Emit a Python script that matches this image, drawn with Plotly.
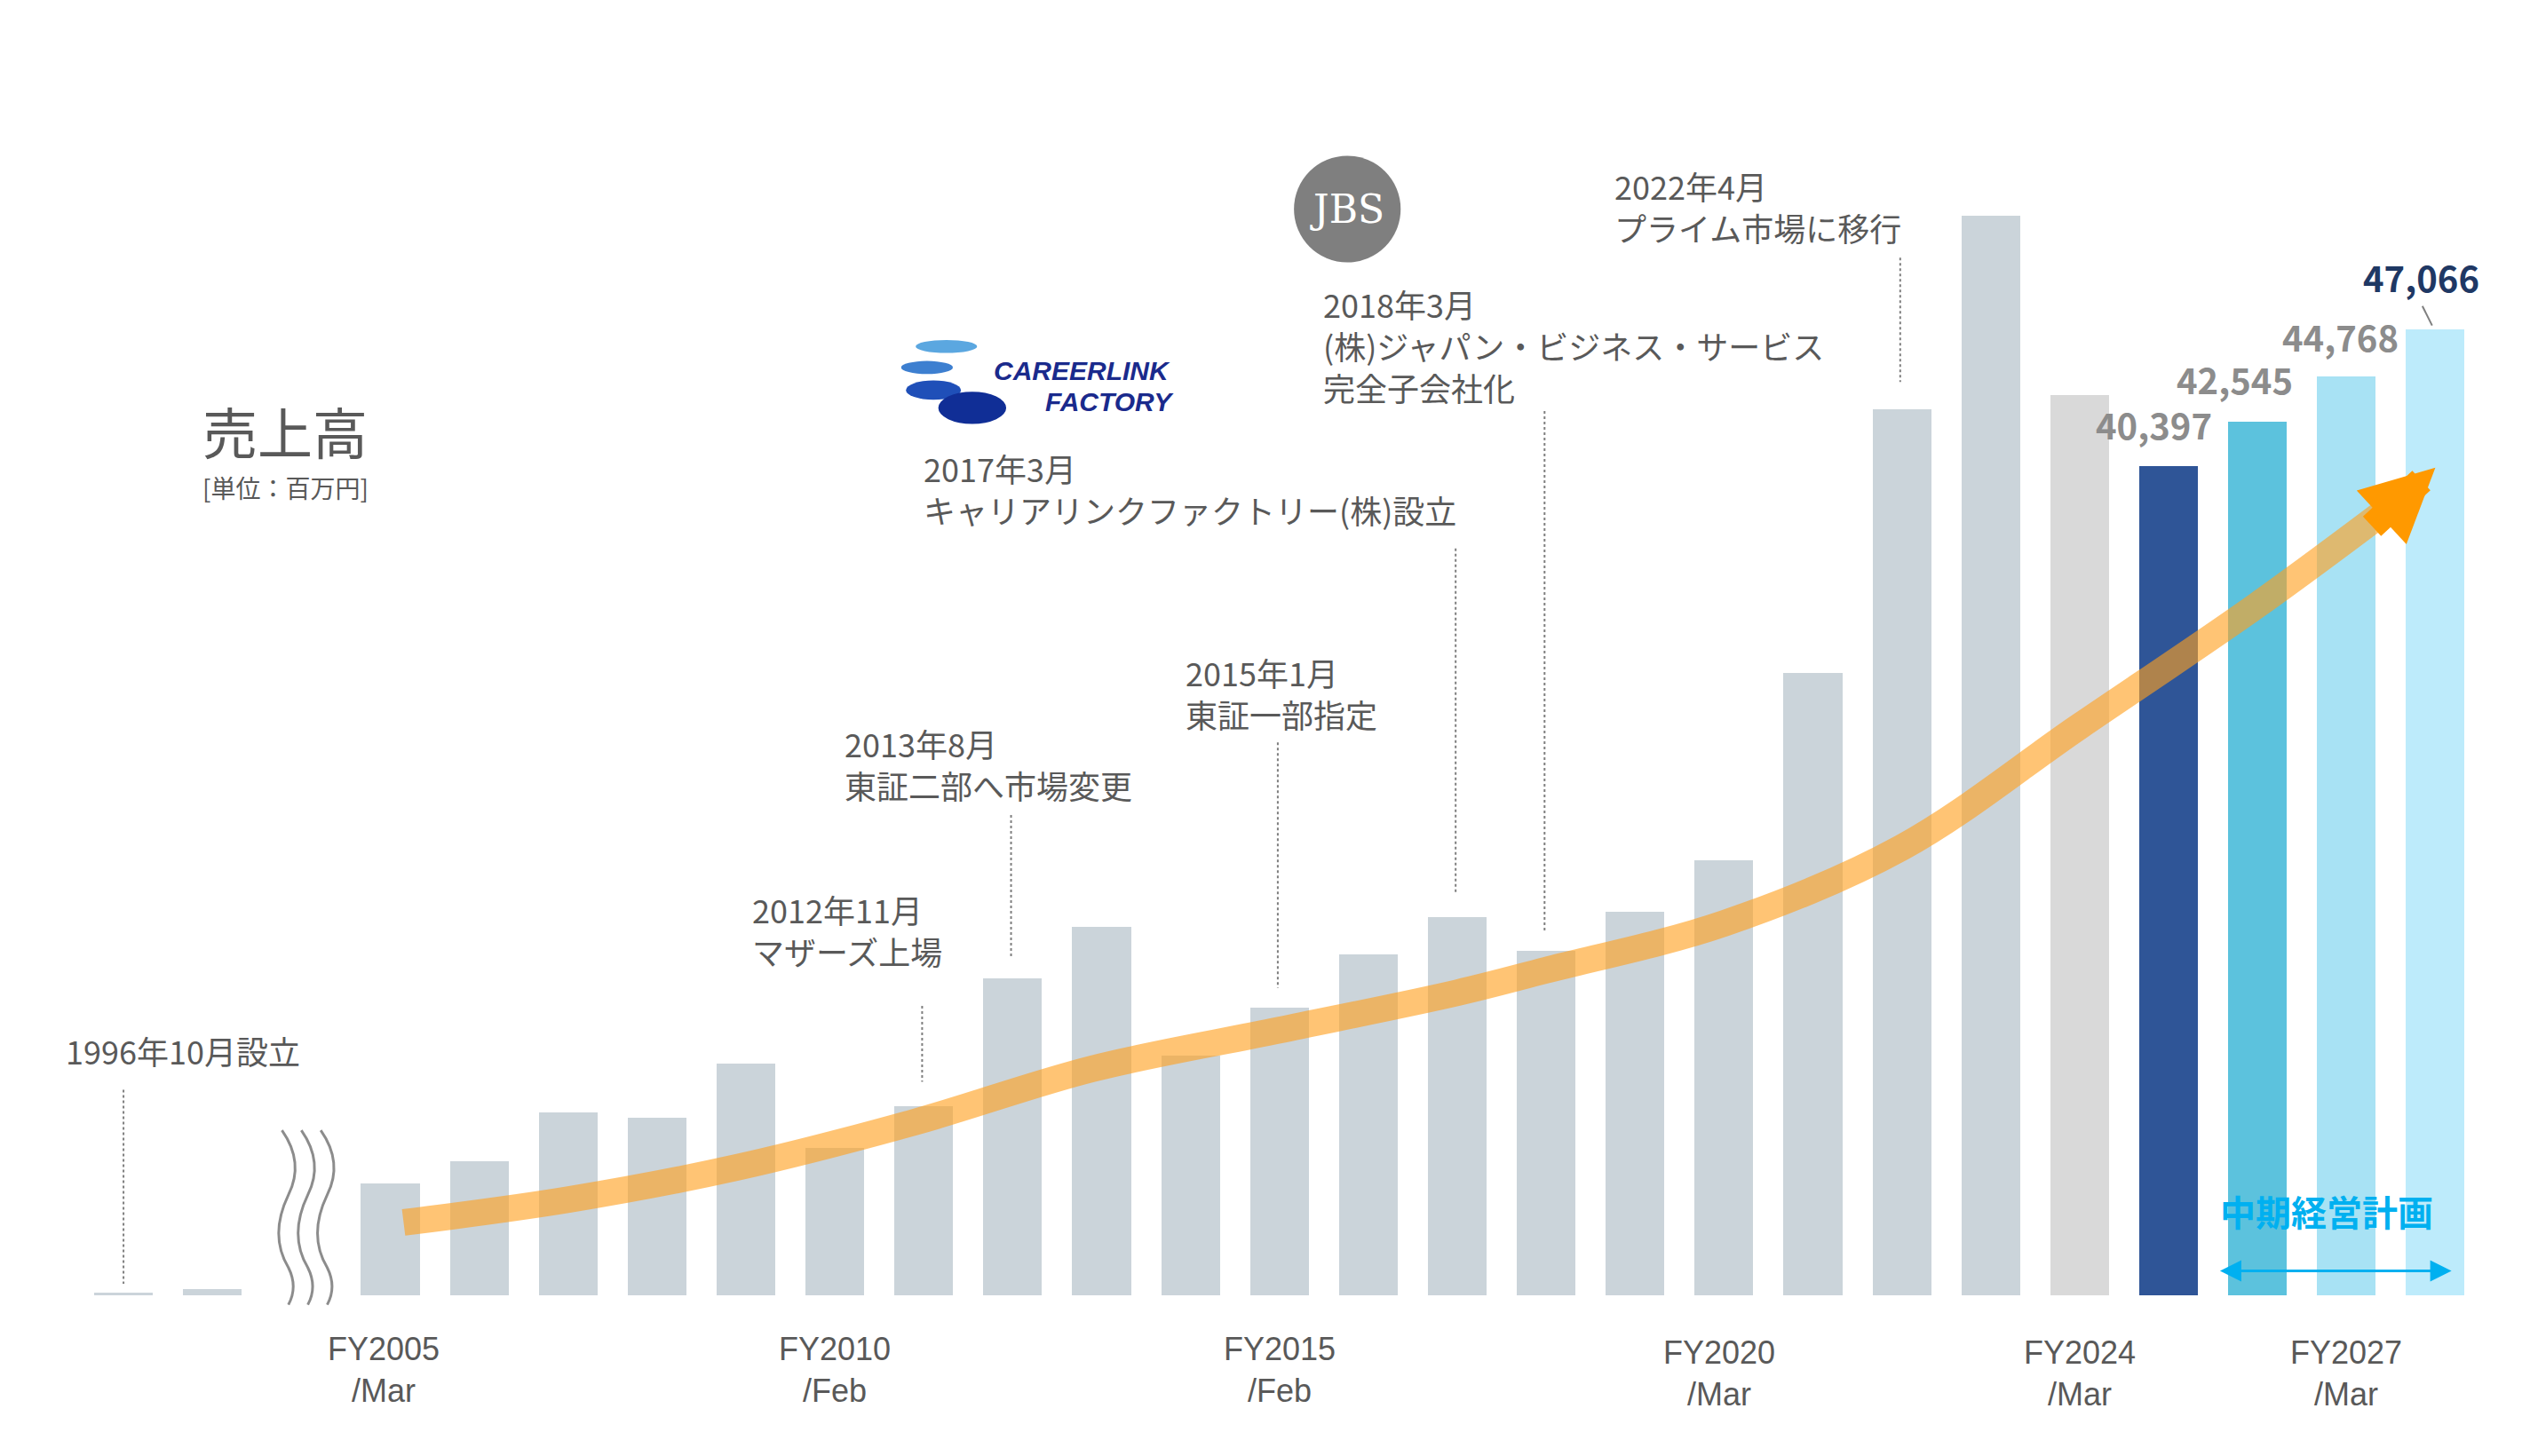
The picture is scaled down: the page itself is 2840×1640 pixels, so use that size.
import plotly.graph_objects as go

# sales (million yen)
xpos = [0, 1] + list(range(3, 27))
sales = [100, 300, 5430, 6540, 8900, 8660, 11260, 7170, 9210, 15430, 17950, 11650,
         14020, 16620, 18430, 16770, 18660, 21180, 30320, 43150, 52600, 43860,
         40397, 42545, 44768, 47066]
colors = ["#CBD4DA"] * 21 + ["#D9D9D9", "#2F5597", "#5CC2DD", "#A8E2F4", "#BDEBFB"]

# trend arrow path (x position, value)
trend_x = [3.15, 5.0, 6.9, 8.9, 10.9, 13.0, 15.0, 16.0, 18.0, 20.0, 22.0, 24.0, 25.6]
trend_y = [3540, 4650, 6220, 8430, 11030, 12910, 14730, 15830, 18110, 21810, 27720, 33630, 38750]

tick_text = ["FY2005<br>/Mar", "FY2010<br>/Feb", "FY2015<br>/Feb", "FY2020<br>/Mar", "FY2024<br>/Mar", "FY2027<br>/Mar"]
value_labels = ["40,397", "42,545", "44,768", "47,066"]

FONT = "Noto Sans CJK JP"
GRAY = "#595959"


def px(x):
    return (x - 72) / 55.0


def py(y):
    return (797 - y) * 78.75


fig = go.Figure()
fig.add_trace(go.Bar(x=xpos, y=sales, marker_color=colors, width=0.66,
                     marker_line_width=0, hoverinfo="skip"))
fig.add_trace(go.Scatter(x=trend_x, y=trend_y, mode="lines", line_shape="spline",
                         line=dict(color="rgba(255,160,30,0.62)", width=30), hoverinfo="skip"))

ann = [dict(x=px(1502), y=py(285), ax=px(1462), ay=py(322), xref="x", yref="y",
            axref="x", ayref="y", showarrow=True, arrowhead=2, arrowsize=0.55,
            arrowwidth=30, arrowcolor="#FF9900", text="")]
# events
events = [
    (460, 543, "2012年11月<br>マザーズ上場"),
    (517, 440, "2013年8月<br>東証二部へ市場変更"),
    (728, 396, "2015年1月<br>東証一部指定"),
    (566, 270, "2017年3月<br>キャリアリンクファクトリー(株)設立"),
    (813, 168, "2018年3月<br>(株)ジャパン・ビジネス・サービス<br>完全子会社化"),
    (993, 95, "2022年4月<br>プライム市場に移行"),
    (35, 630, "1996年10月設立"),
]
for x, y, t in events:
    ann.append(dict(x=px(x), y=py(y), text=t, xanchor="left", yanchor="top", align="left",
                    showarrow=False, font=dict(size=36, color=GRAY, family=FONT)))

tick_pos = [233, 512, 787, 1059, 1282, 1447]
tick_y = [818, 818, 818, 820, 820, 820]
for x, y, t in zip(tick_pos, tick_y, tick_text):
    ann.append(dict(x=px(x), y=py(y), text=t, yanchor="top", showarrow=False,
                    font=dict(size=36, color=GRAY, family="Liberation Sans")))

for x, y, t, c in zip([1328, 1378, 1443, 1493], [258, 230, 204, 167], value_labels,
                      ["#8C8C8C", "#8C8C8C", "#8C8C8C", "#1F3864"]):
    ann.append(dict(x=px(x), y=py(y), text="<b>" + t + "</b>", showarrow=False,
                    font=dict(size=40, color=c, family=FONT)))

ann += [
    dict(x=px(172), y=py(262), text="売上高", showarrow=False, font=dict(size=62, color=GRAY, family=FONT)),
    dict(x=px(172), y=py(297), text="[単位：百万円]", showarrow=False, font=dict(size=28, color=GRAY, family=FONT)),
    dict(x=px(1435), y=py(745), text="<b>中期経営計画</b>", showarrow=False, font=dict(size=40, color="#00B0F0", family=FONT)),
    dict(x=px(1512), y=py(782), ax=px(1368), ay=py(782), xref="x", yref="y", axref="x", ayref="y",
         text="", showarrow=True, arrowside="end+start", arrowhead=2, arrowsize=1.6, arrowwidth=3, arrowcolor="#00B0F0"),
    dict(x=px(829), y=py(125), text="JBS", showarrow=False, font=dict(size=44, color="white", family="DejaVu Serif")),
    dict(x=px(665), y=py(225), text="<b><i>CAREERLINK</i></b>", showarrow=False, font=dict(size=30, color="#1A2A8C", family="Liberation Sans")),
    dict(x=px(682), y=py(244), text="<b><i>FACTORY</i></b>", showarrow=False, font=dict(size=30, color="#1A2A8C", family="Liberation Sans")),
]

shapes = []
for x, y0, y1 in [(72, 670, 790), (566, 618, 665), (621, 500, 588), (786, 455, 607),
                  (896, 335, 548), (951, 250, 572), (1171, 155, 232)]:
    shapes.append(dict(type="line", x0=px(x), x1=px(x), y0=py(y0), y1=py(y1),
                       line=dict(color="#7F7F7F", width=2, dash="dot")))
shapes.append(dict(type="line", x0=px(1494), x1=px(1500), y0=py(185), y1=py(197), line=dict(color="#7F7F7F", width=2)))
# squiggle break marks
for dx in [0, 12, 24]:
    x0 = 170 + dx
    path = "M {},{} Q {},{} {},{} Q {},{} {},{} Q {},{} {},{}".format(
        px(x0), py(695), px(x0 + 14), py(715), px(x0 + 4), py(735),
        px(x0 - 8), py(760), px(x0 + 4), py(780), px(x0 + 10), py(792), px(x0 + 4), py(803))
    shapes.append(dict(type="path", path=path, line=dict(color="#8C8C8C", width=3)))
# JBS logo circle
shapes.append(dict(type="circle", x0=px(796), x1=px(862), y0=py(158), y1=py(92),
                   fillcolor="#7F7F7F", line=dict(width=0), layer="below"))
# careerlink logo ellipses
for x0, x1, y0, y1, c in [(562, 600, 206, 214, "#5BA7E0"), (553, 585, 219, 227, "#3D7FD0"),
                          (556, 590, 231, 243, "#1F4FB8"), (576, 618, 238, 258, "#102E96")]:
    shapes.append(dict(type="circle", x0=px(x0), x1=px(x1), y0=py(y1), y1=py(y0),
                       fillcolor=c, line=dict(width=0)))

W = 2840 / 1560 * 1.0
fig.update_layout(
    width=2840, height=1640, plot_bgcolor="white", paper_bgcolor="white",
    margin=dict(l=0, r=0, t=0, b=0), showlegend=False,
    xaxis=dict(range=[px(0), px(1560)], visible=False),
    yaxis=dict(range=[py(901), py(0)], visible=False),
    annotations=ann, shapes=shapes, bargap=0,
)
fig.write_html("out.html")
